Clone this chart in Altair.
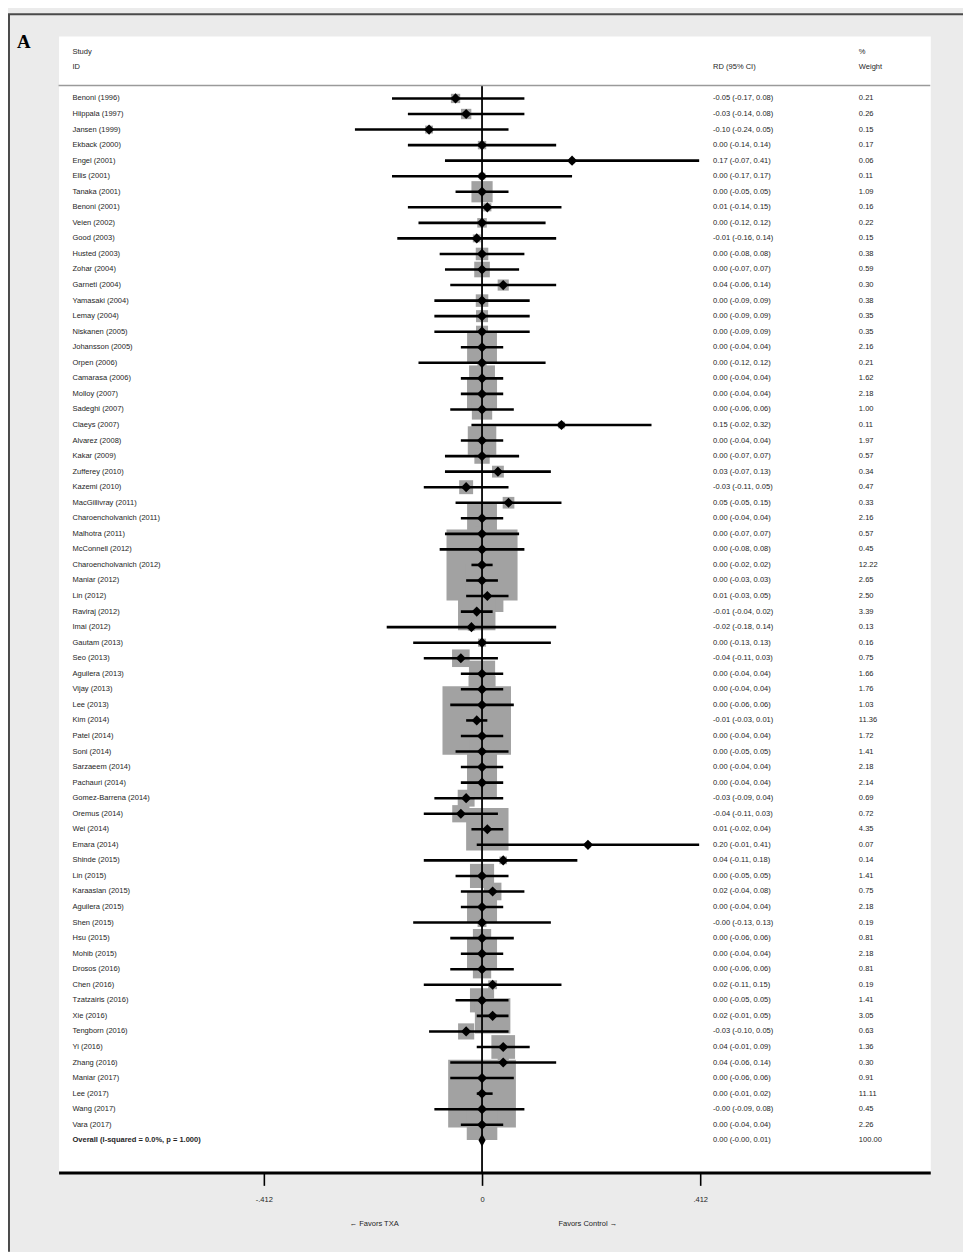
import altair as alt
import pandas as pd

# ---------------- data ----------------
studies = [
    "Benoni (1996)", "Hiippala (1997)", "Jansen (1999)", "Ekback (2000)", "Engel (2001)",
    "Ellis (2001)", "Tanaka (2001)", "Benoni (2001)", "Veien (2002)", "Good (2003)",
    "Husted (2003)", "Zohar (2004)", "Garneti (2004)", "Yamasaki (2004)", "Lemay (2004)",
    "Niskanen (2005)", "Johansson (2005)", "Orpen (2006)", "Camarasa (2006)", "Molloy (2007)",
    "Sadeghi (2007)", "Claeys (2007)", "Alvarez (2008)", "Kakar (2009)", "Zufferey (2010)",
    "Kazemi (2010)", "MacGillivray (2011)", "Charoencholvanich (2011)", "Malhotra (2011)",
    "McConnell (2012)", "Charoencholvanich (2012)", "Maniar (2012)", "Lin (2012)",
    "Raviraj (2012)", "Imai (2012)", "Gautam (2013)", "Seo (2013)", "Aguilera (2013)",
    "Vijay (2013)", "Lee (2013)", "Kim (2014)", "Patel (2014)", "Soni (2014)",
    "Sarzaeem (2014)", "Pachauri (2014)", "Gomez-Barrena (2014)", "Oremus (2014)",
    "Wei (2014)", "Emara (2014)", "Shinde (2015)", "Lin  (2015)", "Karaaslan (2015)",
    "Aguilera (2015)", "Shen (2015)", "Hsu (2015)", "Mohib (2015)", "Drosos (2016)",
    "Chen (2016)", "Tzatzairis (2016)", "Xie (2016)", "Tengborn (2016)", "Yi (2016)",
    "Zhang (2016)", "Maniar (2017)", "Lee (2017)", "Wang (2017)", "Vara (2017)",
]
rd = [
    -0.05, -0.03, -0.10, 0.00, 0.17, 0.00, 0.00, 0.01, 0.00, -0.01,
    0.00, 0.00, 0.04, 0.00, 0.00, 0.00, 0.00, 0.00, 0.00, 0.00,
    0.00, 0.15, 0.00, 0.00, 0.03, -0.03, 0.05, 0.00, 0.00, 0.00,
    0.00, 0.00, 0.01, -0.01, -0.02, 0.00, -0.04, 0.00, 0.00, 0.00,
    -0.01, 0.00, 0.00, 0.00, 0.00, -0.03, -0.04, 0.01, 0.20, 0.04,
    0.00, 0.02, 0.00, -0.0, 0.00, 0.00, 0.00, 0.02, 0.00, 0.02,
    -0.03, 0.04, 0.04, 0.00, 0.00, -0.0, 0.00,
]
ci_low = [
    -0.17, -0.14, -0.24, -0.14, -0.07, -0.17, -0.05, -0.14, -0.12, -0.16,
    -0.08, -0.07, -0.06, -0.09, -0.09, -0.09, -0.04, -0.12, -0.04, -0.04,
    -0.06, -0.02, -0.04, -0.07, -0.07, -0.11, -0.05, -0.04, -0.07, -0.08,
    -0.02, -0.03, -0.03, -0.04, -0.18, -0.13, -0.11, -0.04, -0.04, -0.06,
    -0.03, -0.04, -0.05, -0.04, -0.04, -0.09, -0.11, -0.02, -0.01, -0.11,
    -0.05, -0.04, -0.04, -0.13, -0.06, -0.04, -0.06, -0.11, -0.05, -0.01,
    -0.10, -0.01, -0.06, -0.06, -0.01, -0.09, -0.04,
]
ci_high = [
    0.08, 0.08, 0.05, 0.14, 0.41, 0.17, 0.05, 0.15, 0.12, 0.14,
    0.08, 0.07, 0.14, 0.09, 0.09, 0.09, 0.04, 0.12, 0.04, 0.04,
    0.06, 0.32, 0.04, 0.07, 0.13, 0.05, 0.15, 0.04, 0.07, 0.08,
    0.02, 0.03, 0.05, 0.02, 0.14, 0.13, 0.03, 0.04, 0.04, 0.06,
    0.01, 0.04, 0.05, 0.04, 0.04, 0.04, 0.03, 0.04, 0.41, 0.18,
    0.05, 0.08, 0.04, 0.13, 0.06, 0.04, 0.06, 0.15, 0.05, 0.05,
    0.05, 0.09, 0.14, 0.06, 0.02, 0.08, 0.04,
]
weights = [
    0.21, 0.26, 0.15, 0.17, 0.06, 0.11, 1.09, 0.16, 0.22, 0.15,
    0.38, 0.59, 0.30, 0.38, 0.35, 0.35, 2.16, 0.21, 1.62, 2.18,
    1.00, 0.11, 1.97, 0.57, 0.34, 0.47, 0.33, 2.16, 0.57, 0.45,
    12.22, 2.65, 2.50, 3.39, 0.13, 0.16, 0.75, 1.66, 1.76, 1.03,
    11.36, 1.72, 1.41, 2.18, 2.14, 0.69, 0.72, 4.35, 0.07, 0.14,
    1.41, 0.75, 2.18, 0.19, 0.81, 2.18, 0.81, 0.19, 1.41, 3.05,
    0.63, 1.36, 0.30, 0.91, 11.11, 0.45, 2.26,
]

overall_label = ["Overall  (I-squared = 0.0%, p = 1.000)"]
overall_rd = [0.00]
overall_low = [-0.0]
overall_high = [0.01]
overall_weight = [100.00]

tick_values = [-0.412, 0, 0.412]
tick_labels = ["-.412", "0", ".412"]

header_left = ["Study", "ID"]
header_mid = ["RD (95% CI)"]
header_right = ["%", "Weight"]
favors = ["\u2190 Favors TXA", "Favors Control \u2192"]
panel_letter = "A"

# ---------------- tables ----------------
df = pd.DataFrame({"study": studies, "rd": rd, "lo": ci_low, "hi": ci_high, "w": weights})
df["row"] = list(range(len(df)))
df["ci"] = [f"{a:.2f} ({b:.2f}, {c:.2f})" for a, b, c in zip(df.rd, df.lo, df.hi)]
df["wt"] = [f"{x:.2f}" for x in df.w]

ov = pd.DataFrame({"study": overall_label, "rd": overall_rd, "lo": overall_low,
                   "hi": overall_high, "w": overall_weight})
ov["row"] = [len(df)]
ov["ci"] = [f"{a:.2f} ({b:.2f}, {c:.2f})" for a, b, c in zip(ov.rd, ov.lo, ov.hi)]
ov["wt"] = [f"{x:.2f}" for x in ov.w]

one = pd.DataFrame({"k": [0]})

W, H = 879, 1146
FONT = "Liberation Sans"
FS = 7.6
TXT = "#1e1e1e"

xs = alt.Scale(domain=[-0.7996, 0.8464], nice=False, zero=False)
ys = alt.Scale(domain=[-4.018, 69.07], reverse=True, nice=False, zero=False)

label_expr = " : ".join(
    [f"datum.value == {v} ? '{l}'" for v, l in zip(tick_values[:-1], tick_labels[:-1])]
    + [f"'{tick_labels[-1]}'"]
)

x_axis = alt.Axis(values=tick_values, labelExpr=label_expr, grid=False, title="",
                  domainColor="black", domainWidth=3, tickColor="black", tickWidth=1.6,
                  tickSize=13, labelPadding=10, labelFont=FONT, labelFontSize=FS,
                  labelColor=TXT, orient="bottom")

Y = alt.Y("row:Q", scale=ys, axis=None)

def X(field):
    return alt.X(field, scale=xs, axis=x_axis)

base = alt.Chart(df)

squares = base.mark_square(color="#a2a2a2", opacity=1).encode(
    x=X("rd:Q"),
    y=Y,
    size=alt.Size("w:Q", scale=alt.Scale(type="linear", domain=[0, 13], range=[0, 13 * 420]),
                  legend=None),
)

zero_line = alt.Chart(one).mark_rule(color="black", strokeWidth=1.8).encode(
    x=alt.datum(0, scale=xs, axis=x_axis), y=alt.value(50), y2=alt.value(H)
)

ci = base.mark_rule(color="black", strokeWidth=2.6).encode(
    x=X("lo:Q"), x2="hi:Q", y=Y
)

points = base.mark_point(shape="diamond", filled=True, size=105, color="black", opacity=1).encode(
    x=X("rd:Q"), y=Y
)

ov_base = alt.Chart(ov)
ov_diamond = ov_base.mark_point(shape="M0,-1L0.55,0L0,1L-0.55,0Z", filled=True, size=170,
                                color="black", opacity=1).encode(
    x=X("rd:Q"), y=Y
)

header_rule = alt.Chart(one).mark_rule(color="#9a9a9a", strokeWidth=1.5).encode(
    x=alt.value(0), x2=alt.value(W), y=alt.value(50)
)

def col_text(data, field, xpix, weight="normal"):
    return alt.Chart(data).mark_text(align="left", baseline="middle", font=FONT,
                                     fontSize=FS, color=TXT, fontWeight=weight).encode(
        x=alt.value(xpix), y=Y, text=f"{field}:N"
    )

study_txt = col_text(df, "study", 14)
ci_txt = col_text(df, "ci", 660)
wt_txt = col_text(df, "wt", 807)
ov_study = col_text(ov, "study", 14, "bold")
ov_ci = col_text(ov, "ci", 660)
ov_wt = col_text(ov, "wt", 807)

def fixed_text(s, xpix, ypix, align="left", size=FS, font=FONT, weight="normal",
               baseline="middle", color=TXT):
    return alt.Chart(one).mark_text(text=s, align=align, baseline=baseline, font=font,
                                    fontSize=size, fontWeight=weight, color=color).encode(
        x=alt.value(xpix), y=alt.value(ypix)
    )

headers = [
    fixed_text(header_left[0], 14, 16),
    fixed_text(header_left[1], 14, 31),
    fixed_text(header_mid[0], 660, 31),
    fixed_text(header_right[0], 807, 16),
    fixed_text(header_right[1], 807, 31),
    fixed_text(favors[0], 343, 1198, align="right"),
    fixed_text(favors[1], 504, 1198, align="left"),
    fixed_text(panel_letter, -42, 12, size=19, font="Liberation Serif", weight="bold",
               baseline="alphabetic", color="black"),
]

border_left = alt.Chart(one).mark_rule(color="#4a4a4a", strokeWidth=2).encode(
    x=alt.value(-50), y=alt.value(-22), y2=alt.value(H + 80)
)
border_top = alt.Chart(one).mark_rule(color="#4a4a4a", strokeWidth=2).encode(
    x=alt.value(-51), x2=alt.value(W + 40), y=alt.value(-22)
)

chart = alt.layer(
    squares, zero_line, header_rule, ci, points, ov_diamond,
    study_txt, ci_txt, wt_txt, ov_study, ov_ci, ov_wt,
    *headers, border_left, border_top,
).properties(
    width=W, height=H,
    autosize=alt.AutoSizeParams(type="none"),
    padding={"left": 51, "top": 23, "right": 33, "bottom": 75},
    background="#ebebeb",
).configure_view(fill="white", stroke="transparent")

chart.save("out.html", embed_options={"renderer": "svg", "actions": False})
